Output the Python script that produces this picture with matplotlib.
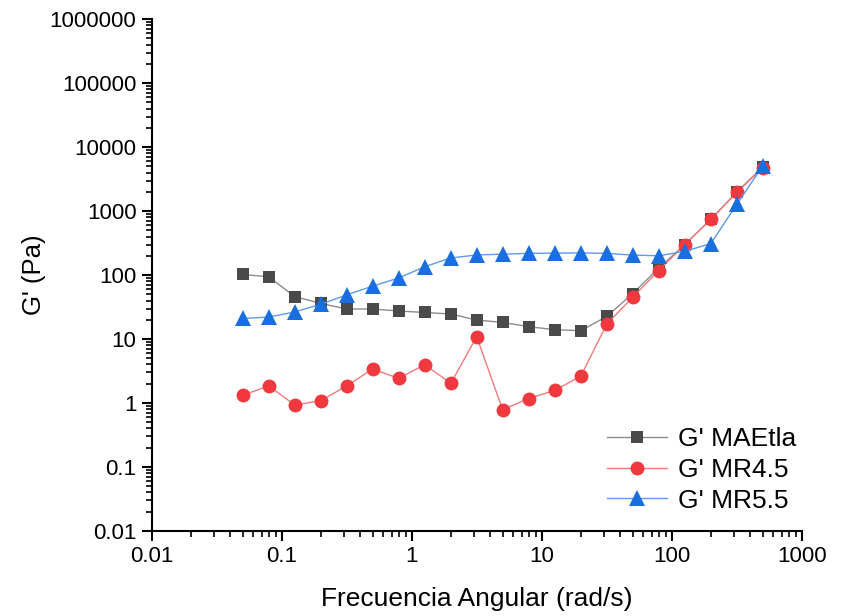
import matplotlib.pyplot as plt
from matplotlib.ticker import LogLocator, FuncFormatter

plt.rcParams['font.family'] = ['Liberation Sans', 'DejaVu Sans']

freq = [0.05, 0.0794, 0.126, 0.2, 0.316, 0.5, 0.794, 1.26, 2, 3.16, 5,
        7.94, 12.6, 20, 31.6, 50, 79.4, 126, 200, 316, 500]

g_maetla = [102, 94, 46, 36, 29.5, 29.5, 27.4, 26, 24.6, 19.8, 18.2,
            15.6, 14, 13.5, 22.5, 51, 128, 300, 745, 1980, 4850]
g_mr45 = [1.32, 1.85, 0.93, 1.09, 1.85, 3.4, 2.43, 3.98, 2.03, 10.9, 0.79,
          1.17, 1.58, 2.63, 17, 45, 117, 300, 740, 1950, 4700]
g_mr55 = [21, 22, 26.5, 35, 49, 67, 90, 135, 185, 206, 212,
          218, 220, 222, 218, 205, 200, 235, 310, 1270, 5000]

labels = ["G' MAEtla", "G' MR4.5", "G' MR5.5"]

fig = plt.figure(figsize=(8.43, 6.16), dpi=100)
ax = fig.add_axes([0.180, 0.138, 0.771, 0.831])

ax.plot(freq, g_maetla, color='#8c8c8c', marker='s', markersize=9, lw=1.0,
        markerfacecolor='#4a4a4a', markeredgewidth=0, label=labels[0])
ax.plot(freq, g_mr45, color='#f27a7d', marker='o', markersize=10, lw=1.0,
        markerfacecolor='#f0393e', markeredgewidth=0, label=labels[1])
ax.plot(freq, g_mr55, color='#5e9be9', marker='^', markersize=11, lw=1.0,
        markerfacecolor='#1a6fdf', markeredgewidth=0, label=labels[2])

ax.set_xscale('log')
ax.set_yscale('log')
ax.set_xlim(0.01, 1000)
ax.set_ylim(0.01, 1000000)

fmt = FuncFormatter(lambda v, p: ('%g' % v) if v < 1 else '%d' % round(v))
ax.xaxis.set_major_formatter(fmt)
ax.yaxis.set_major_formatter(fmt)
ax.xaxis.set_major_locator(LogLocator(base=10, numticks=20))
ax.yaxis.set_major_locator(LogLocator(base=10, numticks=20))
ax.xaxis.set_minor_locator(LogLocator(base=10, subs=range(2, 10), numticks=50))
ax.yaxis.set_minor_locator(LogLocator(base=10, subs=range(2, 10), numticks=50))

for side in ['top', 'right']:
    ax.spines[side].set_visible(False)
for side in ['left', 'bottom']:
    ax.spines[side].set_linewidth(1.5)

ax.tick_params(which='major', direction='out', length=7, width=1.5,
               labelsize=16, pad=4)
ax.tick_params(which='minor', direction='out', length=4, width=1.2)

ax.set_xlabel('Frecuencia Angular (rad/s)', fontsize=19, labelpad=14)
ax.set_ylabel("G' (Pa)", fontsize=18.5, labelpad=3)

ax.legend(loc='upper left', bbox_to_anchor=(0.70, 0.2025), frameon=False,
          fontsize=19, handlelength=2.3, labelspacing=0.25, handletextpad=0.4,
          borderaxespad=0, borderpad=0)

fig.savefig('out.png', dpi=100)
